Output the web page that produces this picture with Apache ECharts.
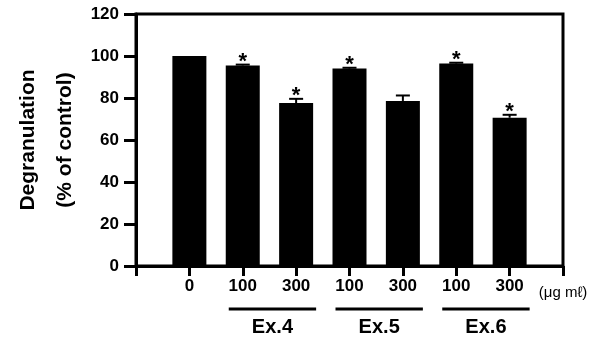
<!DOCTYPE html>
<html>
<head>
<meta charset="utf-8">
<script src="https://cdn.jsdelivr.net/npm/echarts@6/dist/echarts.min.js"></script>
<style>html,body{margin:0;padding:0;background:#fff}#c{width:593px;height:343px}</style>
</head>
<body>
<div id="c"></div>
<script>
const doseLabels = ['0', '100', '300', '100', '300', '100', '300'];
const values = [100, 95.5, 77.6, 94, 78.6, 96.4, 70.6];
const errors = [0, 0.4, 2, 0.4, 2.6, 0.4, 1.4];
const significant = [0, 1, 1, 1, 0, 1, 1];
const groups = [
  { name: 'Ex.4', from: 1, to: 2 },
  { name: 'Ex.5', from: 3, to: 4 },
  { name: 'Ex.6', from: 5, to: 6 }
];
const yTicks = { min: 0, max: 120, interval: 20 };
const unitLabel = '(\u03bcg m\u2113)';
const yTitle = ['Degranulation', '(% of control)'];

const FONT = '"Liberation Sans", Arial, sans-serif';
const chart = echarts.init(document.getElementById('c'), null, { renderer: 'canvas' });

const barData = values.map((v, i) => [i + 1, v]);
const errData = values.map((v, i) => [i + 1, v, errors[i], significant[i]]);

chart.setOption({
  animation: false,
  grid: { left: 136, right: 30, top: 14, bottom: 77, show: true, borderColor: '#000', borderWidth: 3, backgroundColor: 'transparent' },
  xAxis: {
    type: 'value', min: 0, max: doseLabels.length + 1, interval: 1,
    splitLine: { show: false },
    axisLine: { lineStyle: { color: '#000', width: 3 } },
    axisTick: { length: 10, lineStyle: { color: '#000', width: 3 } },
    axisLabel: {
      margin: 12, color: '#000', fontFamily: FONT, fontWeight: 'bold', fontSize: 17,
      formatter: v => (v >= 1 && v <= doseLabels.length) ? doseLabels[v - 1] : ''
    }
  },
  yAxis: {
    type: 'value', min: yTicks.min, max: yTicks.max, interval: yTicks.interval,
    splitLine: { show: false },
    axisLine: { lineStyle: { color: '#000', width: 3 } },
    axisTick: { length: 12, lineStyle: { color: '#000', width: 3 } },
    axisLabel: { margin: 17, color: '#000', fontFamily: FONT, fontWeight: 'bold', fontSize: 17 }
  },
  series: [
    {
      type: 'bar', data: barData, barWidth: 34,
      itemStyle: { color: '#000' }, z: 2
    },
    {
      type: 'custom', data: errData, z: 3,
      renderItem: function (params, api) {
        const x = api.value(0), v = api.value(1), e = api.value(2), sig = api.value(3);
        const base = api.coord([x, v]);
        const top = api.coord([x, v + e]);
        const children = [];
        if (e > 0) {
          children.push({ type: 'line', shape: { x1: base[0], y1: base[1], x2: top[0], y2: top[1] }, style: { stroke: '#000', lineWidth: 2 } });
          children.push({ type: 'line', shape: { x1: top[0] - 7, y1: top[1], x2: top[0] + 7, y2: top[1] }, style: { stroke: '#000', lineWidth: 2 } });
        }
        if (sig) {
          children.push({ type: 'text', style: { text: '*', x: top[0], y: top[1] + 8, align: 'center', verticalAlign: 'bottom', fill: '#000', font: 'bold 22px ' + FONT } });
        }
        return { type: 'group', children: children };
      }
    }
  ]
});

function buildGraphics() {
  const els = [];
  const baseY = chart.convertToPixel({ yAxisIndex: 0 }, 0);
  groups.forEach(g => {
    const x1 = chart.convertToPixel({ xAxisIndex: 0 }, g.from + 1) - 14;
    const x2 = chart.convertToPixel({ xAxisIndex: 0 }, g.to + 1) + 20;
    els.push({ type: 'line', shape: { x1: x1, y1: baseY + 43, x2: x2, y2: baseY + 43 }, style: { stroke: '#000', lineWidth: 3 } });
    els.push({ type: 'text', style: { text: g.name, x: (x1 + x2) / 2, y: baseY + 61, align: 'center', verticalAlign: 'middle', fill: '#000', font: 'bold 20px ' + FONT } });
  });
  const xEnd = chart.convertToPixel({ xAxisIndex: 0 }, doseLabels.length + 1);
  els.push({ type: 'text', style: { text: unitLabel, x: xEnd, y: baseY + 27, align: 'center', verticalAlign: 'middle', fill: '#000', font: '15px ' + FONT } });
  const yMid = (chart.convertToPixel({ yAxisIndex: 0 }, yTicks.min) + chart.convertToPixel({ yAxisIndex: 0 }, yTicks.max)) / 2;
  els.push({ type: 'text', x: 28, y: yMid, rotation: Math.PI / 2, style: { text: yTitle[0], x: 0, y: 0, align: 'center', verticalAlign: 'middle', fill: '#000', font: 'bold 21px ' + FONT } });
  els.push({ type: 'text', x: 65, y: yMid, rotation: Math.PI / 2, style: { text: yTitle[1], x: 0, y: 0, align: 'center', verticalAlign: 'middle', fill: '#000', font: 'bold 21px ' + FONT } });
  chart.setOption({ graphic: { elements: els } });
}
buildGraphics();
</script>
</body>
</html>
